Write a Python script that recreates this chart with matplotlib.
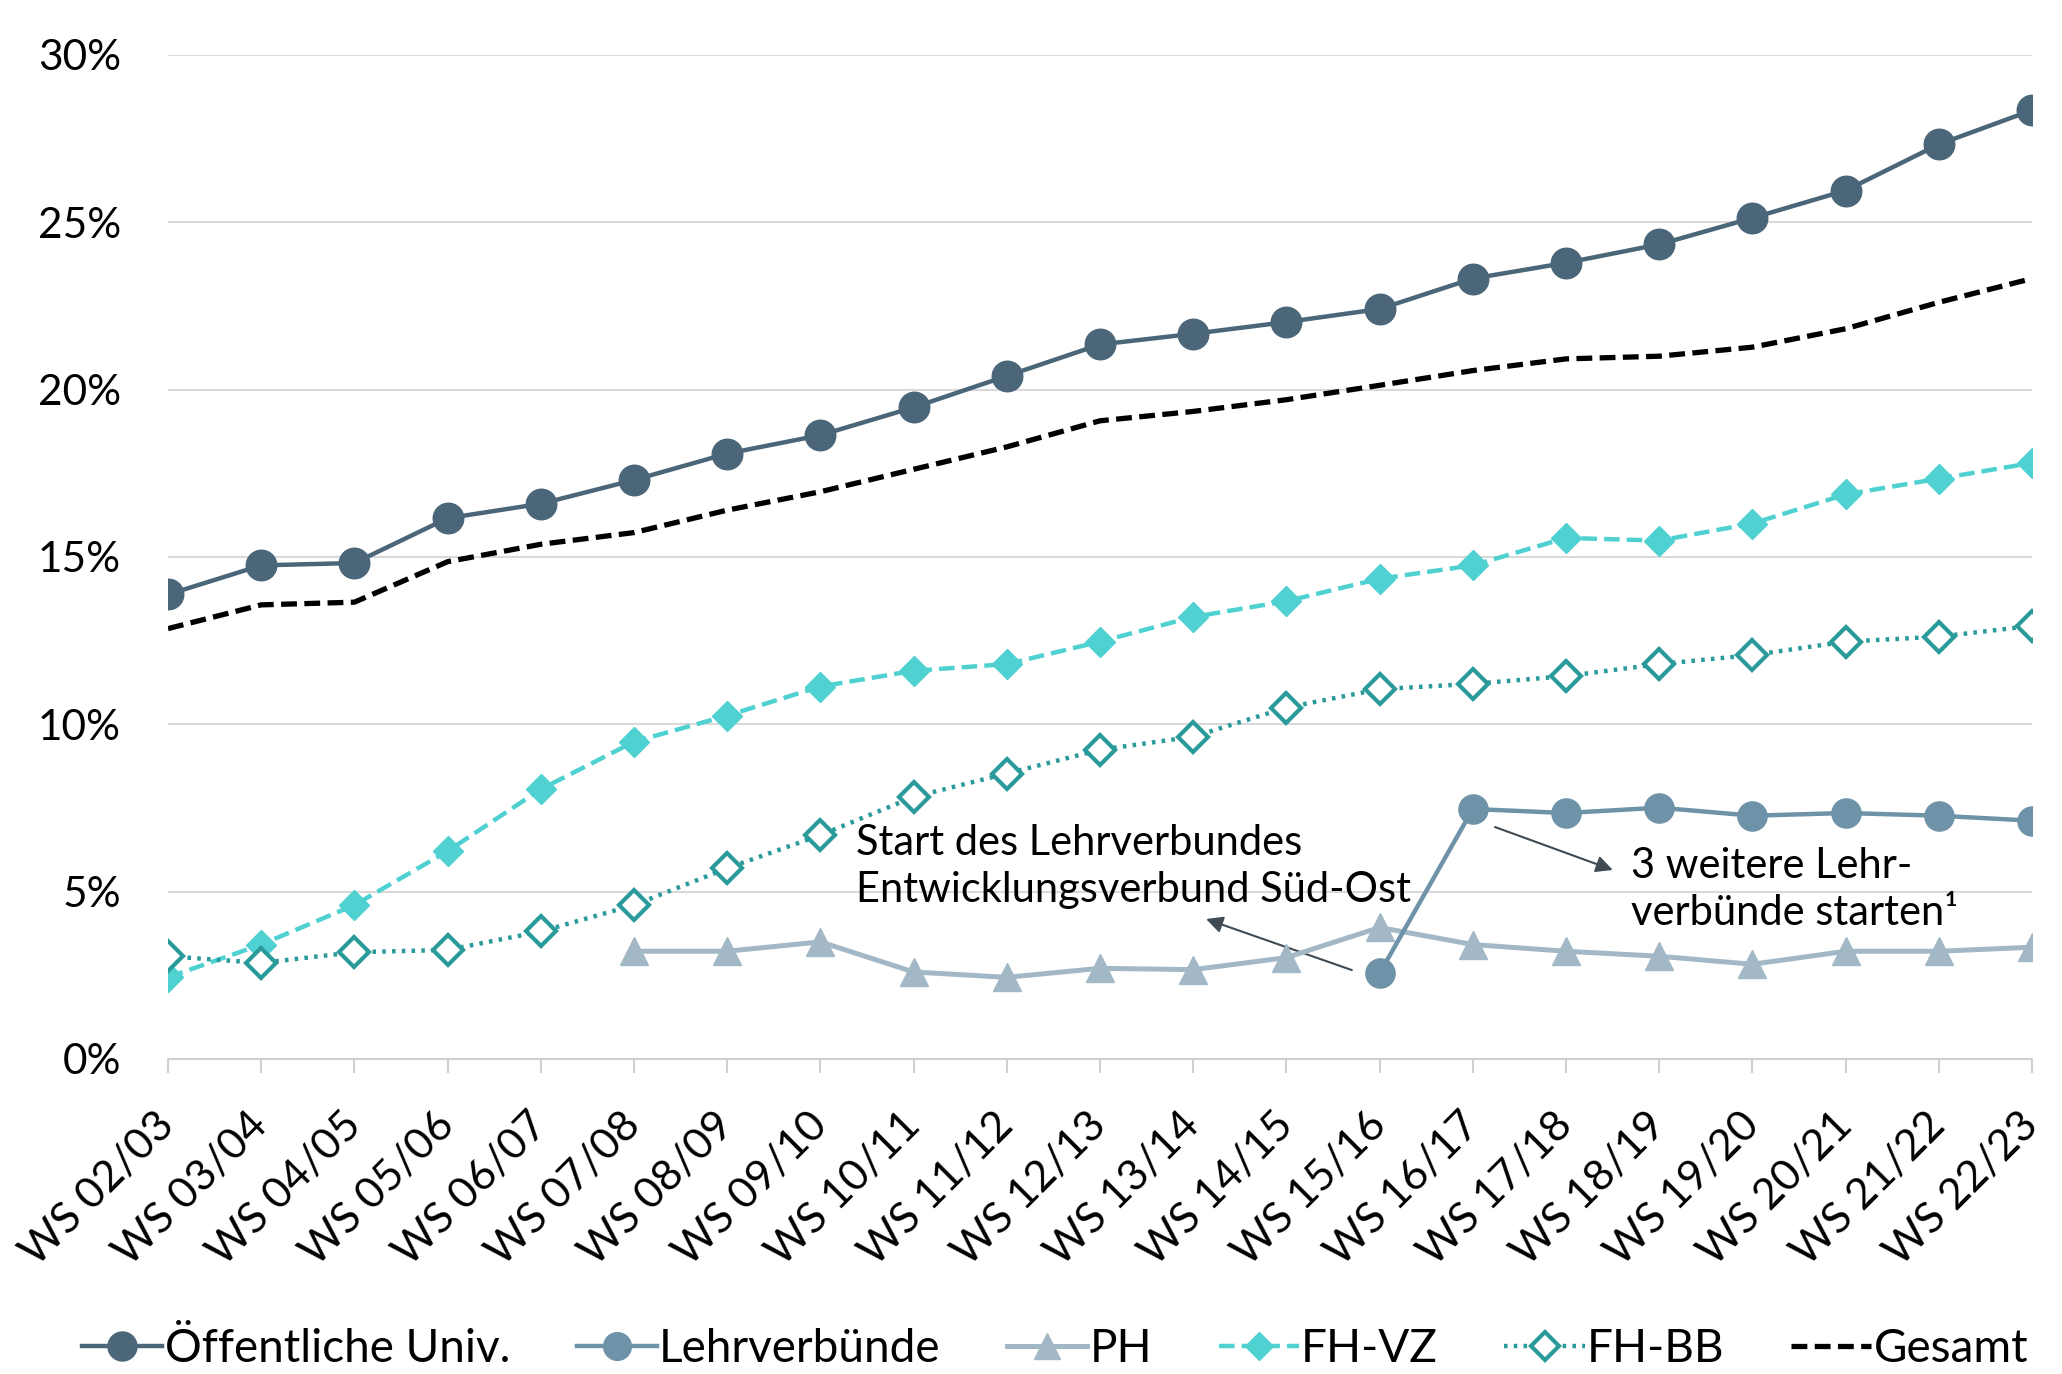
import matplotlib
matplotlib.use("Agg")
import matplotlib.pyplot as plt
import numpy as np

plt.rcParams['font.family'] = ['Lato', 'DejaVu Sans']

categories = ["WS 02/03", "WS 03/04", "WS 04/05", "WS 05/06", "WS 06/07", "WS 07/08",
              "WS 08/09", "WS 09/10", "WS 10/11", "WS 11/12", "WS 12/13", "WS 13/14",
              "WS 14/15", "WS 15/16", "WS 16/17", "WS 17/18", "WS 18/19", "WS 19/20",
              "WS 20/21", "WS 21/22", "WS 22/23"]

oeff_univ = [13.88, 14.75, 14.82, 16.16, 16.59, 17.30, 18.09, 18.64, 19.47, 20.41, 21.35,
             21.67, 22.02, 22.41, 23.32, 23.79, 24.34, 25.13, 25.95, 27.33, 28.35]
lehrverbuende = [None] * 13 + [2.56, 7.47, 7.35, 7.51, 7.27, 7.35, 7.27, 7.12]
ph = [None] * 5 + [3.22, 3.22, 3.50, 2.60, 2.44, 2.71, 2.67, 3.03, 3.93, 3.42, 3.22,
                   3.07, 2.83, 3.22, 3.22, 3.34]
fh_vz = [2.44, 3.42, 4.60, 6.21, 8.06, 9.48, 10.26, 11.13, 11.60, 11.80, 12.47, 13.21,
         13.68, 14.35, 14.75, 15.57, 15.49, 16.00, 16.87, 17.34, 17.81]
fh_bb = [3.07, 2.87, 3.19, 3.26, 3.81, 4.60, 5.70, 6.69, 7.83, 8.53, 9.24, 9.63, 10.50,
         11.05, 11.21, 11.44, 11.80, 12.07, 12.47, 12.62, 12.94]
gesamt = [12.86, 13.57, 13.65, 14.86, 15.38, 15.73, 16.40, 16.95, 17.62, 18.29, 19.07,
          19.35, 19.70, 20.13, 20.57, 20.92, 21.00, 21.27, 21.82, 22.61, 23.32]

yticks = [0, 5, 10, 15, 20, 25, 30]
ytick_labels = ["0%", "5%", "10%", "15%", "20%", "25%", "30%"]


def arr(v):
    return np.array([np.nan if a is None else a for a in v], dtype=float)


x = np.arange(len(categories))

fig = plt.figure(figsize=(20.62, 13.74), dpi=100)
ax = fig.add_axes([168 / 2062, 1 - 1059 / 1374, (2032 - 168) / 2062, (1059 - 55) / 1374])

c_oeff = "#4b6679"
c_lehr = "#6e92a7"
c_ph = "#a3b8c6"
c_vz = "#4fd1d1"
c_bb = "#2a9a9a"

ax.plot(x, arr(oeff_univ), color=c_oeff, lw=3.2, marker='o', ms=22, zorder=6,
        label="Öffentliche Univ.")
ax.plot(x, arr(lehrverbuende), color=c_lehr, lw=3.2, marker='o', ms=21, zorder=5,
        label="Lehrverbünde")
ax.plot(x, arr(ph), color=c_ph, lw=3.6, marker='^', ms=20, zorder=4, label="PH")
ax.plot(x, arr(fh_vz), color=c_vz, lw=3.2, ls=(0, (3.5, 1.6)), marker='D', ms=15,
        zorder=4, label="FH-VZ")
ax.plot(x, arr(fh_bb), color=c_bb, lw=3.2, ls=(0, (0.8, 1.4)), marker='D', ms=15,
        mfc='white', mec=c_bb, mew=3, zorder=4, label="FH-BB")
ax.plot(x, arr(gesamt), color="black", lw=3.8, ls=(0, (3.0, 1.4)), zorder=5,
        label="Gesamt")

ax.set_xlim(0, len(categories) - 1)
ax.set_ylim(0, 30)
ax.set_yticks(yticks)
ax.set_yticklabels(ytick_labels)
ax.set_xticks(x)
ax.set_xticklabels(categories, rotation=45, ha='right', va='center', rotation_mode='anchor')

ax.grid(axis='y', color='#d9d9d9', lw=1.5)
ax.set_axisbelow(True)
for s in ['top', 'right', 'left']:
    ax.spines[s].set_visible(False)
ax.spines['bottom'].set_color('#d0d0d0')
ax.spines['bottom'].set_linewidth(1.5)
ax.tick_params(axis='x', length=10, width=1.5, color='#d0d0d0', labelsize=31, pad=33)
ax.tick_params(axis='y', length=0, labelsize=30.5, pad=34)

ax.annotate("", xy=(11.11, 4.21), xytext=(12.73, 2.63),
            arrowprops=dict(arrowstyle='-|>', color='#3f4a52', lw=1.5, mutation_scale=25),
            zorder=3)
ax.text(7.38, 5.76, "Start des Lehrverbundes\nEntwicklungsverbund Süd-Ost", fontsize=30,
        ha='left', va='center', linespacing=1.3, zorder=7)

ax.annotate("", xy=(15.53, 5.62), xytext=(14.21, 6.96),
            arrowprops=dict(arrowstyle='-|>', color='#3f4a52', lw=1.5, mutation_scale=25),
            zorder=3)
ax.text(15.70, 5.07, "3 weitere Lehr-\nverbünde starten¹", fontsize=30,
        ha='left', va='center', linespacing=1.3, zorder=7)

fig.legend(loc='center', bbox_to_anchor=(0.5117, 0.018), ncol=6, frameon=False,
           fontsize=33, handlelength=1.75, handletextpad=0.05, columnspacing=1.45,
           markerscale=0.95)

fig.savefig("out.png", dpi=100)
